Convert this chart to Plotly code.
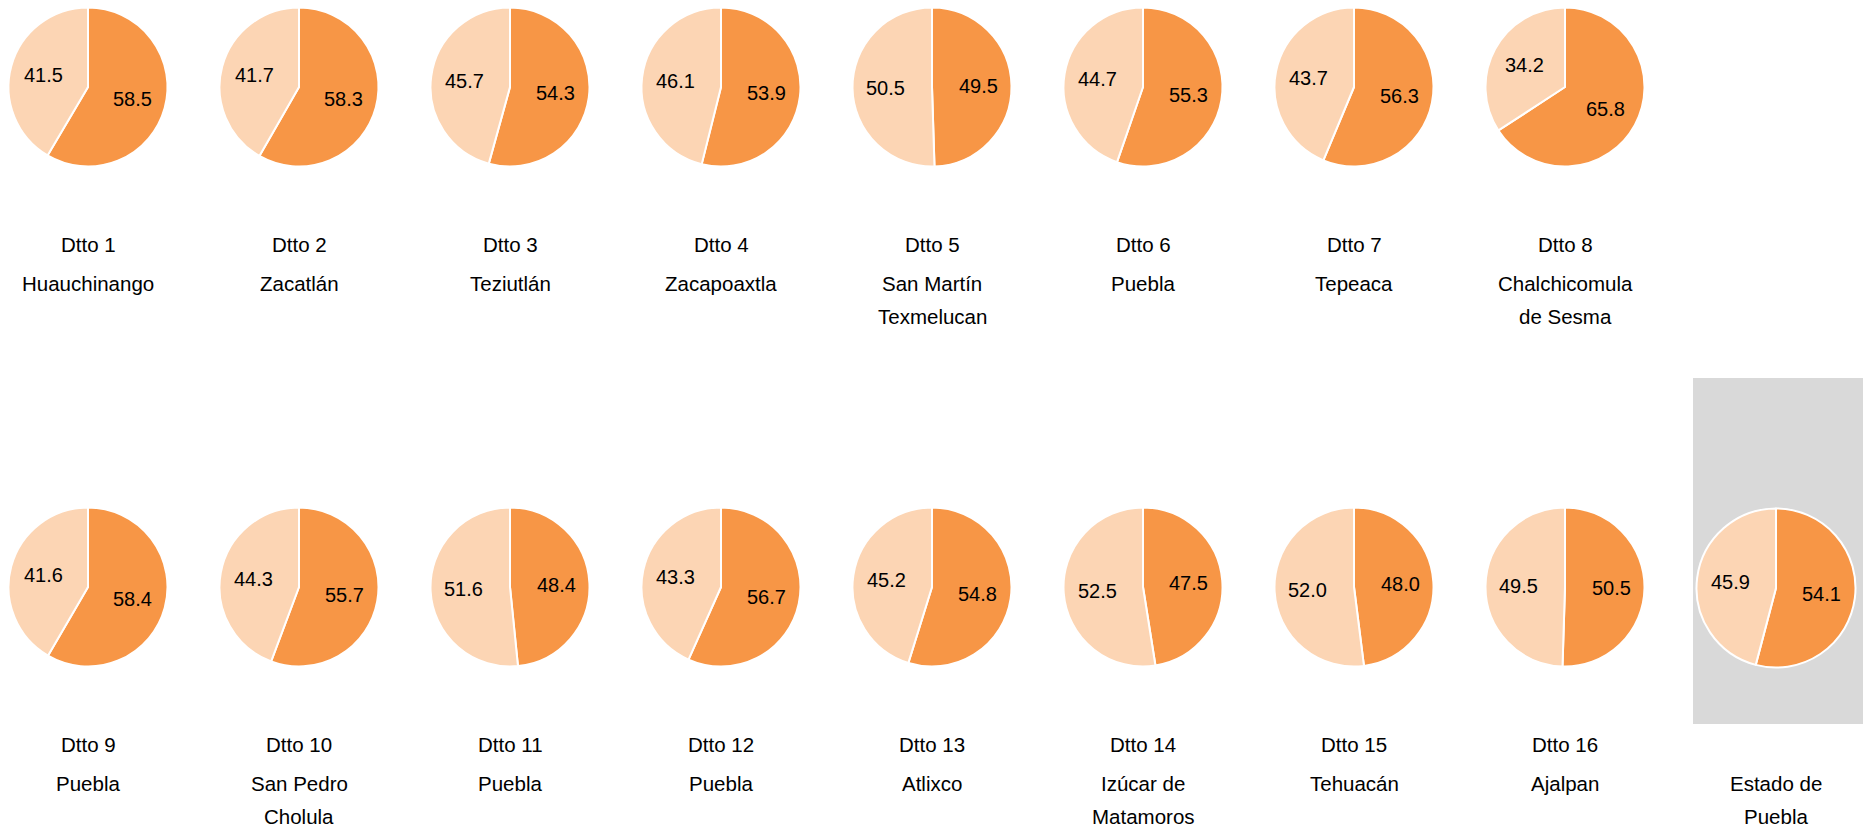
import math
import plotly.graph_objects as go

W, H = 1866, 829

dark_vals = [58.5, 58.3, 54.3, 53.9, 49.5, 55.3, 56.3, 65.8,
             58.4, 55.7, 48.4, 56.7, 54.8, 47.5, 48.0, 50.5, 54.1]
light_vals = [41.5, 41.7, 45.7, 46.1, 50.5, 44.7, 43.7, 34.2,
              41.6, 44.3, 51.6, 43.3, 45.2, 52.5, 52.0, 49.5, 45.9]
distritos = ["Dtto 1", "Dtto 2", "Dtto 3", "Dtto 4", "Dtto 5", "Dtto 6", "Dtto 7", "Dtto 8",
             "Dtto 9", "Dtto 10", "Dtto 11", "Dtto 12", "Dtto 13", "Dtto 14", "Dtto 15", "Dtto 16", ""]
nombres = [["Huauchinango"], ["Zacatlán"], ["Teziutlán"], ["Zacapoaxtla"],
           ["San Martín", "Texmelucan"], ["Puebla"], ["Tepeaca"], ["Chalchicomula", "de Sesma"],
           ["Puebla"], ["San Pedro", "Cholula"], ["Puebla"], ["Puebla"], ["Atlixco"],
           ["Izúcar de", "Matamoros"], ["Tehuacán"], ["Ajalpan"], ["Estado de", "Puebla"]]

DARK = "#F79646"
LIGHT = "#FCD5B4"
FONT = "Arial, Liberation Sans, sans-serif"

x0, dx = 88, 211
row_y = [87, 587]
R = 79.5
LABEL_R = 0.58

fig = go.Figure()
annotations = []


def px_x(v):
    return v / W


def px_y(v):
    return 1 - v / H


for i in range(17):
    if i < 8:
        cx, cy = x0 + i * dx, row_y[0]
        dy = 0
    elif i < 16:
        cx, cy = x0 + (i - 8) * dx, row_y[1]
        dy = 500
    else:
        cx, cy = x0 + 8 * dx, row_y[1] + 1
        dy = 500
    vals = [dark_vals[i], light_vals[i]]
    fig.add_trace(go.Pie(
        values=vals,
        labels=["a", "b"],
        sort=False,
        direction="clockwise",
        rotation=0,
        marker=dict(colors=[DARK, LIGHT], line=dict(color="white", width=2)),
        textinfo="none",
        domain=dict(x=[px_x(cx - R), px_x(cx + R)], y=[px_y(cy + R), px_y(cy - R)]),
        showlegend=False,
        hoverinfo="skip",
    ))
    # value labels at the mid-angle of each slice
    total = sum(vals)
    start = 0.0
    for v in vals:
        mid = (start + v / 2) / total * 2 * math.pi
        start += v
        lx = cx + LABEL_R * R * math.sin(mid)
        ly = cy - LABEL_R * R * math.cos(mid)
        annotations.append(dict(text=f"{v:.1f}", x=px_x(lx), y=px_y(ly),
                                xref="paper", yref="paper", showarrow=False,
                                font=dict(family=FONT, size=20, color="black"),
                                xanchor="center", yanchor="middle"))
    if distritos[i]:
        annotations.append(dict(text=distritos[i], x=px_x(cx), y=px_y(244 + dy),
                                xref="paper", yref="paper", showarrow=False,
                                font=dict(family=FONT, size=20.5, color="black"),
                                xanchor="center", yanchor="middle"))
    for j, line in enumerate(nombres[i]):
        annotations.append(dict(text=line, x=px_x(cx), y=px_y(283 + 33 * j + dy),
                                xref="paper", yref="paper", showarrow=False,
                                font=dict(family=FONT, size=20.5, color="black"),
                                xanchor="center", yanchor="middle"))

fig.add_shape(type="rect", xref="paper", yref="paper",
              x0=px_x(1693), x1=px_x(1863), y0=px_y(724), y1=px_y(378),
              fillcolor="#D9D9D9", line=dict(width=0), layer="below")

fig.update_layout(
    width=W, height=H,
    margin=dict(l=0, r=0, t=0, b=0),
    paper_bgcolor="white",
    plot_bgcolor="white",
    annotations=annotations,
)

fig.write_html("out.html",
               config={"displayModeBar": False},
               post_script="document.body.style.margin='0';document.body.style.overflow='hidden';")
